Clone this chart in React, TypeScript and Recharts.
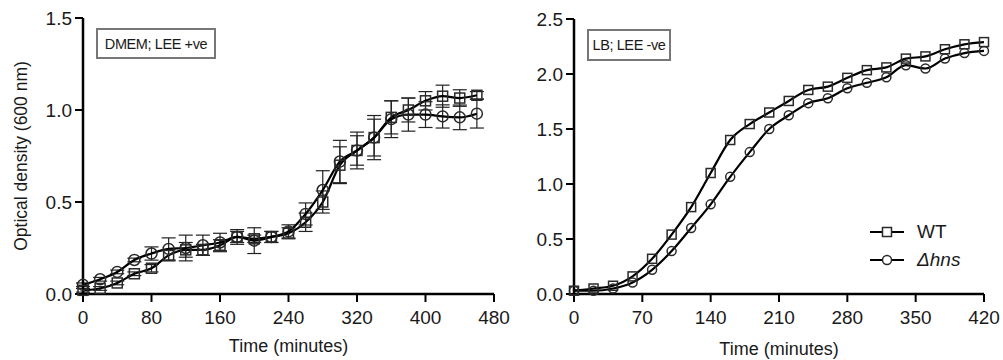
import { ErrorBar, Label, Line, LineChart, XAxis, YAxis } from "recharts";

// left panel: DMEM; LEE +ve (mean ± error)
const timeLeft = [0, 20, 40, 60, 80, 100, 120, 140, 160, 180, 200, 220, 240, 260, 280, 300, 320, 340, 360, 380, 400, 420, 440, 460];
const wtLeft = [0.02, 0.03, 0.06, 0.11, 0.14, 0.21, 0.24, 0.24, 0.265, 0.31, 0.3, 0.31, 0.33, 0.39, 0.5, 0.7, 0.78, 0.85, 0.96, 1.0, 1.05, 1.075, 1.065, 1.08];
const wtErrLeft = [0.01, 0.01, 0.01, 0.01, 0.02, 0.03, 0.04, 0.03, 0.03, 0.03, 0.02, 0.03, 0.03, 0.05, 0.06, 0.1, 0.08, 0.1, 0.09, 0.065, 0.05, 0.06, 0.045, 0.02];
const hnsLeft = [0.05, 0.08, 0.12, 0.185, 0.22, 0.245, 0.25, 0.265, 0.28, 0.31, 0.29, 0.31, 0.34, 0.435, 0.565, 0.72, 0.78, 0.85, 0.95, 0.975, 0.975, 0.965, 0.96, 0.98];
const hnsErrLeft = [0.01, 0.01, 0.01, 0.01, 0.036, 0.06, 0.07, 0.055, 0.05, 0.04, 0.07, 0.03, 0.036, 0.06, 0.105, 0.115, 0.1, 0.12, 0.1, 0.09, 0.07, 0.063, 0.067, 0.078];

// right panel: LB; LEE -ve
const timeRight = [0, 20, 40, 60, 80, 100, 120, 140, 160, 180, 200, 220, 240, 260, 280, 300, 320, 340, 360, 380, 400, 420];
const wtRight = [0.03, 0.05, 0.075, 0.16, 0.32, 0.54, 0.79, 1.1, 1.4, 1.545, 1.65, 1.755, 1.855, 1.885, 1.965, 2.035, 2.06, 2.14, 2.16, 2.225, 2.27, 2.29];
const hnsRight = [0.03, 0.03, 0.05, 0.105, 0.22, 0.39, 0.6, 0.815, 1.065, 1.29, 1.5, 1.625, 1.735, 1.78, 1.87, 1.92, 1.97, 2.08, 2.05, 2.14, 2.19, 2.21];

const xTicksLeft = [0, 80, 160, 240, 320, 400, 480];
const yTicksLeft = [0, 0.5, 1.0, 1.5];
const xTicksRight = [0, 70, 140, 210, 280, 350, 420];
const yTicksRight = [0, 0.5, 1.0, 1.5, 2.0, 2.5];

const seriesNames = ["WT", "Δhns"];

const leftData = timeLeft.map((t, i) => ({
  t,
  wt: wtLeft[i],
  wtErr: wtErrLeft[i],
  hns: hnsLeft[i],
  hnsErr: hnsErrLeft[i],
}));
const rightData = timeRight.map((t, i) => ({ t, wt: wtRight[i], hns: hnsRight[i] }));

const FONT = "'Liberation Sans', Arial, Helvetica, sans-serif";
const tickStyle = { fontSize: 19, fill: "#1a1a1a", fontFamily: FONT };
const axisLine = { stroke: "#000", strokeWidth: 2.5 };
const tickLine = { stroke: "#000", strokeWidth: 2 };

const squareDot = (size: number) => (props: any) => {
  const { cx, cy, index } = props;
  if (cx == null || cy == null) return <g key={index} />;
  return (
    <rect
      key={index}
      x={cx - size / 2}
      y={cy - size / 2}
      width={size}
      height={size}
      fill="none"
      stroke="#2a2a2a"
      strokeWidth={1.5}
    />
  );
};

const circleDot = (r: number) => (props: any) => {
  const { cx, cy, index } = props;
  if (cx == null || cy == null) return <g key={index} />;
  return <circle key={index} cx={cx} cy={cy} r={r} fill="none" stroke="#2a2a2a" strokeWidth={1.5} />;
};

const LegendBox = () => (
  <div style={{ position: "absolute", left: 870, top: 218, fontFamily: FONT, fontSize: 19, color: "#1a1a1a" }}>
    {seriesNames.map((name, i) => (
      <div key={name} style={{ display: "flex", alignItems: "center", height: 28 }}>
        <svg width={34} height={14}>
          <line x1={0} y1={7} x2={34} y2={7} stroke="#000" strokeWidth={2} />
          {i === 0 ? (
            <rect x={12.5} y={2.5} width={9} height={9} fill="#fff" stroke="#2a2a2a" strokeWidth={1.5} />
          ) : (
            <circle cx={17} cy={7} r={4.5} fill="#fff" stroke="#2a2a2a" strokeWidth={1.5} />
          )}
        </svg>
        <span style={{ marginLeft: 13, fontStyle: i === 0 ? "normal" : "italic" }}>{name}</span>
      </div>
    ))}
  </div>
);

const boxStyle = {
  position: "absolute" as const,
  boxSizing: "border-box" as const,
  border: "2px solid #777",
  background: "#fff",
  fontFamily: FONT,
  fontSize: 14.5,
  color: "#1a1a1a",
  display: "flex",
  alignItems: "center",
  justifyContent: "center",
  letterSpacing: -0.4,
  whiteSpace: "nowrap" as const,
};

export default function App() {
  return (
    <div style={{ position: "absolute", left: 0, top: 0, width: 1003, height: 360, background: "#fff" }}>
      <div style={{ position: "absolute", left: 0, top: 0 }}>
        <LineChart width={540} height={360} data={leftData} margin={{ top: 18, right: 46, left: 0, bottom: 0 }}>
          <XAxis
            dataKey="t"
            type="number"
            domain={[0, 480]}
            ticks={xTicksLeft}
            tick={tickStyle}
            tickSize={8}
            tickMargin={9}
            axisLine={axisLine}
            tickLine={tickLine}
            height={66}
          >
            <Label
              value="Time (minutes)"
              position="insideBottom"
              offset={8}
              style={{ fontSize: 18, fill: "#1a1a1a", fontFamily: FONT }}
            />
          </XAxis>
          <XAxis xAxisId="top" orientation="top" type="number" domain={[0, 480]} tick={false} tickLine={false} height={0} axisLine={axisLine} />
          <YAxis
            type="number"
            domain={[0, 1.5]}
            ticks={yTicksLeft}
            tickFormatter={(v: number) => v.toFixed(1)}
            tick={tickStyle}
            tickSize={8}
            tickMargin={3}
            axisLine={axisLine}
            tickLine={tickLine}
            width={83}
          >
            <Label
              value="Optical density (600 nm)"
              angle={-90}
              position="insideLeft"
              offset={21}
              style={{ textAnchor: "middle", fontSize: 17.5, fill: "#1a1a1a", fontFamily: FONT }}
            />
          </YAxis>
          <YAxis yAxisId="right" orientation="right" type="number" domain={[0, 1.5]} tick={false} tickLine={false} width={0} axisLine={axisLine} />
          <Line
            dataKey="wt"
            name={seriesNames[0]}
            type="monotone"
            stroke="#000"
            strokeWidth={2.2}
            dot={squareDot(10)}
            isAnimationActive={false}
          >
            <ErrorBar dataKey="wtErr" direction="y" width={7} stroke="#222" strokeWidth={1.2} />
          </Line>
          <Line
            dataKey="hns"
            name={seriesNames[1]}
            type="monotone"
            stroke="#000"
            strokeWidth={2.2}
            dot={circleDot(5.5)}
            isAnimationActive={false}
          >
            <ErrorBar dataKey="hnsErr" direction="y" width={7} stroke="#222" strokeWidth={1.2} />
          </Line>
        </LineChart>
      </div>

      <div style={{ position: "absolute", left: 500, top: 0 }}>
        <LineChart width={503} height={360} data={rightData} margin={{ top: 19, right: 19, left: 0, bottom: 0 }}>
          <XAxis
            dataKey="t"
            type="number"
            domain={[0, 420]}
            ticks={xTicksRight}
            tick={tickStyle}
            tickSize={8}
            tickMargin={9}
            axisLine={axisLine}
            tickLine={tickLine}
            height={66}
          >
            <Label
              value="Time (minutes)"
              position="insideBottom"
              offset={5}
              style={{ fontSize: 18, fill: "#1a1a1a", fontFamily: FONT }}
            />
          </XAxis>
          <XAxis xAxisId="top" orientation="top" type="number" domain={[0, 420]} tick={false} tickLine={false} height={0} axisLine={axisLine} />
          <YAxis
            type="number"
            domain={[0, 2.5]}
            ticks={yTicksRight}
            tickFormatter={(v: number) => v.toFixed(1)}
            tick={tickStyle}
            tickSize={8}
            tickMargin={3}
            axisLine={axisLine}
            tickLine={tickLine}
            width={74}
          />
          <YAxis yAxisId="right" orientation="right" type="number" domain={[0, 2.5]} tick={false} tickLine={false} width={0} axisLine={axisLine} />
          <Line
            dataKey="wt"
            name={seriesNames[0]}
            type="monotone"
            stroke="#000"
            strokeWidth={2.2}
            dot={squareDot(9)}
            isAnimationActive={false}
          />
          <Line
            dataKey="hns"
            name={seriesNames[1]}
            type="monotone"
            stroke="#000"
            strokeWidth={2.2}
            dot={circleDot(4.5)}
            isAnimationActive={false}
          />
        </LineChart>
      </div>

      <LegendBox />
      <div style={{ ...boxStyle, left: 96, top: 28, width: 120, height: 31 }}>DMEM; LEE +ve</div>
      <div style={{ ...boxStyle, left: 587, top: 29, width: 84, height: 32 }}>LB; LEE -ve</div>
    </div>
  );
}
